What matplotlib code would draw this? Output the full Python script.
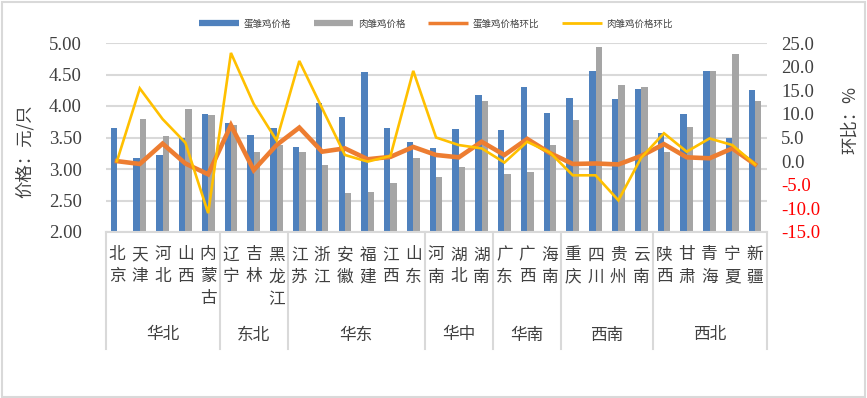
import numpy as np
import matplotlib
matplotlib.use("Agg")
import matplotlib.pyplot as plt
from matplotlib.patches import Rectangle
from matplotlib.lines import Line2D

plt.rcParams['font.family'] = ['Noto Sans CJK SC', 'DejaVu Sans']

# ---------------------------------------------------------------------------
# Data
# ---------------------------------------------------------------------------
provinces = ['北京', '天津', '河北', '山西', '内蒙古', '辽宁', '吉林', '黑龙江',
             '江苏', '浙江', '安徽', '福建', '江西', '山东', '河南', '湖北', '湖南',
             '广东', '广西', '海南', '重庆', '四川', '贵州', '云南',
             '陕西', '甘肃', '青海', '宁夏', '新疆']
regions = ['华北', '东北', '华东', '华中', '华南', '西南', '西北']
region_sizes = [5, 3, 6, 3, 3, 4, 5]

egg_price = [3.65, 3.17, 3.22, 3.50, 3.87, 3.73, 3.54, 3.65, 3.35, 4.05,
             3.83, 4.54, 3.65, 3.43, 3.33, 3.63, 4.17, 3.62, 4.30, 3.89,
             4.13, 4.56, 4.11, 4.27, 3.57, 3.87, 4.56, 3.49, 4.25]
meat_price = [np.nan, 3.79, 3.52, 3.95, 3.86, 3.70, 3.27, 3.38, 3.27, 3.06,
              2.62, 2.63, 2.78, 3.17, 2.87, 3.03, 4.08, 2.92, 2.95, 3.38,
              3.78, 4.94, 4.33, 4.30, 3.27, 3.67, 4.56, 4.83, 4.08]
egg_mom = [0.0, -0.6, 3.7, -0.5, -2.8, 7.6, -1.9, 3.4, 7.1, 2.0,
           2.7, 0.4, 0.9, 3.0, 1.3, 0.8, 4.1, 1.3, 4.7, 1.7,
           -0.6, -0.5, -0.7, 1.1, 3.6, 0.8, 0.6, 2.7, -0.7]
meat_mom = [0.0, 15.4, 8.9, 3.9, -11.0, 22.9, 12.1, 4.4, 21.2, 11.2,
            1.3, -0.1, 1.1, 19.1, 5.0, 3.4, 2.7, -0.3, 4.1, 1.8,
            -3.0, -3.0, -8.3, 0.7, 5.9, 2.0, 4.8, 3.4, -0.7]

left_ticks = [2.0, 2.5, 3.0, 3.5, 4.0, 4.5, 5.0]
right_ticks = [-15, -10, -5, 0, 5, 10, 15, 20, 25]

# ---------------------------------------------------------------------------
# Style
# ---------------------------------------------------------------------------
BLUE = '#4f81bd'
GRAY = '#a5a5a5'
ORANGE = '#ed7d31'
YELLOW = '#ffc000'
GRID = '#d9d9d9'
TXT = '#404040'
NUM_FONT = 'Liberation Serif'

W, H = 867, 398
fig = plt.figure(figsize=(W / 100, H / 100), dpi=100)
ax = fig.add_axes([105.6 / W, 1 - 232 / H, (766.5 - 105.6) / W, 189 / H])
ax2 = ax.twinx()

x = np.arange(len(provinces))
bw = 0.28
base = left_ticks[0]
ax.bar(x - bw / 2, np.array(egg_price) - base, bw, bottom=base, color=BLUE, zorder=2)
ax.bar(x + bw / 2, np.array(meat_price) - base, bw, bottom=base, color=GRAY, zorder=2)

ax.set_xlim(-0.5, len(provinces) - 0.5)
ax.set_ylim(left_ticks[0], left_ticks[-1])
ax.set_yticks(left_ticks)
ax.set_yticklabels([f'{v:.2f}' for v in left_ticks], fontfamily=NUM_FONT,
                   fontsize=13.5, color=TXT)
ax.yaxis.grid(True, color=GRID, lw=1.5, zorder=0)
ax.set_axisbelow(True)
ax.tick_params(axis='y', length=0, pad=17)
ax.tick_params(axis='x', length=0, labelbottom=False)
for s in ['top', 'left', 'right']:
    ax.spines[s].set_visible(False)
ax.spines['bottom'].set_color(GRID)
ax.spines['bottom'].set_linewidth(1.5)

ax2.plot(x, egg_mom, color=ORANGE, lw=3.3, solid_joinstyle='miter', zorder=3)
ax2.plot(x, meat_mom, color=YELLOW, lw=1.9, solid_joinstyle='miter', zorder=4)
ax2.set_ylim(right_ticks[0], right_ticks[-1])
ax2.set_yticks(right_ticks)
ax2.set_yticklabels([f'{v:.1f}' for v in right_ticks], fontfamily=NUM_FONT,
                    fontsize=13.5)
for lab, v in zip(ax2.get_yticklabels(), right_ticks):
    lab.set_color('#ff0000' if v < 0 else TXT)
ax2.tick_params(axis='y', length=0, pad=10.5)
for s in ['top', 'left', 'right', 'bottom']:
    ax2.spines[s].set_visible(False)

# category labels: characters stacked vertically
xt = ax.get_xaxis_transform()
row_px = 22.0
for i, name in enumerate(provinces):
    for j, ch in enumerate(name):
        ypx = 255 + j * row_px
        ax.text(i, (232 - ypx) / 189, ch, transform=xt, ha='center', va='center',
                fontsize=12, color=TXT)

# group separators and region labels
bounds = np.concatenate([[0], np.cumsum(region_sizes)]) - 0.5
for b in bounds:
    ax.plot([b, b], [0, -(349 - 232) / 189], transform=xt, color=GRID, lw=1.5,
            clip_on=False)
for name, a, b in zip(regions, bounds[:-1], bounds[1:]):
    ax.text((a + b) / 2, (232 - 335) / 189, name, transform=xt, ha='center',
            va='center', fontsize=12, color=TXT)

# axis titles
fig.text(25 / W, 1 - 151 / H, '价格：元/只', rotation=90, ha='center', va='center',
         fontsize=12.5, color=TXT)
fig.text(850 / W, 1 - 120 / H, '环比：%', rotation=90, ha='center', va='center',
         fontsize=12.5, color=TXT)

# legend
handles = [Line2D([], [], color=BLUE, lw=4.5, solid_capstyle='butt'),
           Line2D([], [], color=GRAY, lw=4.5, solid_capstyle='butt'),
           Line2D([], [], color=ORANGE, lw=2.5, solid_capstyle='butt'),
           Line2D([], [], color=YELLOW, lw=2.0, solid_capstyle='butt')]
labels = ['蛋雏鸡价格', '肉雏鸡价格', '蛋雏鸡价格环比', '肉雏鸡价格环比']
fig.legend(handles, labels, loc='center', bbox_to_anchor=(436 / W, 1 - 24 / H),
           ncol=4, frameon=False, fontsize=6.8, handlelength=4.2,
           columnspacing=2.4, handletextpad=0.5, labelcolor=TXT)

# outer chart border
fig.add_artist(Rectangle((1.5 / W, 1.5 / H), (W - 4) / W, (H - 3.5) / H,
                         transform=fig.transFigure, fill=False, edgecolor=GRID,
                         lw=1.5))

fig.savefig('out.png', dpi=100, facecolor='white')
